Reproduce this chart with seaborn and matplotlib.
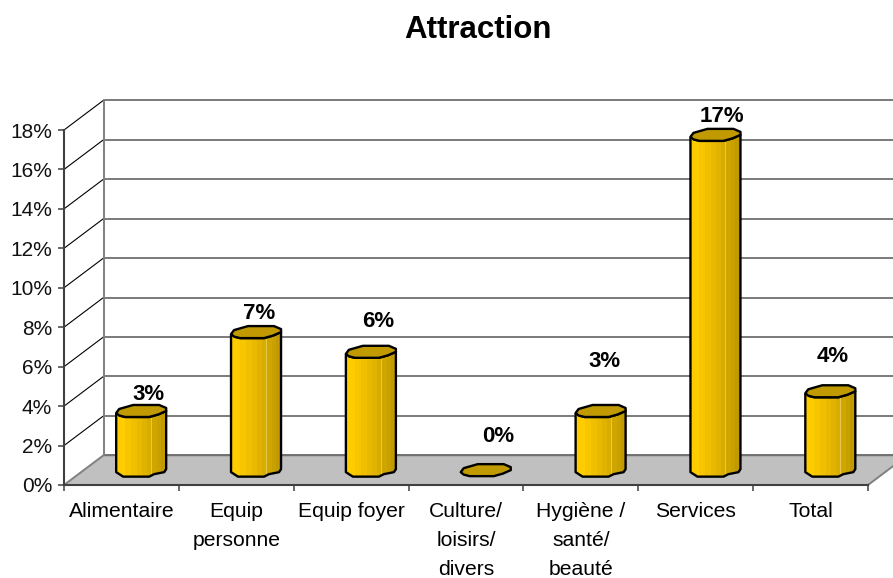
import numpy as np
import pandas as pd
import matplotlib
matplotlib.use("Agg")
import matplotlib.pyplot as plt
from matplotlib.patches import Polygon
from matplotlib.path import Path
from matplotlib.transforms import Affine2D, IdentityTransform
import seaborn as sns

categories = ["Alimentaire", "Equip\npersonne", "Equip foyer", "Culture/\nloisirs/\ndivers",
              "Hygiène /\nsanté/\nbeauté", "Services", "Total"]
values = [3, 7, 6, 0, 3, 17, 4]
y_ticks = list(range(0, 19, 2))
title = "Attraction"

# layout constants (pixels)
W, H = 893, 578
L, R, B, T = 64, 868, 485, 130
DEPTH_X, DEPTH_Y = 39.5, 29.7
label_offsets = [(7, 16), (3, 18.6), (7, 30), (12.5, 33.5), (4, 49), (6, 18.6), (2, 34.7)]
LID_BACK = [(-25, 2), (-22, -2), (-8, -6), (18, -6), (25, -3)]
LID_FRONT = [(25, 0), (17, 3.5), (8, 6), (-16, 6), (-22, 4.5)]
BOTTOM = [(-25, 2), (-18, 6.5), (8, 6.5), (13, 4), (23, 2), (25, -1)]
BAND_COLORS = ["#FFCC00"] * 9 + ["#F7C600"] * 6 + ["#EFBF00"] * 6 + ["#E8B900"] * 5 + ["#E0B300"] * 5 + \
              ["#D8AD00"] * 4 + ["#E6C84A"] * 1 + ["#CFA600"] * 5 + ["#C8A000"] * 4 + ["#C09A00"] * 5
LID_COLOR = "#C09A00"

sns.set_theme(style="white")
plt.rcParams["font.family"] = ["Liberation Sans", "DejaVu Sans"]

fig = plt.figure(figsize=(W / 100, H / 100), dpi=100, facecolor="white")
ax = fig.add_axes([L / W, 1 - B / H, (R - L) / W, (B - T) / H])

df = pd.DataFrame({"cat": categories, "val": values})
sns.barplot(data=df, x="cat", y="val", color="#FFCC00", saturation=1, width=50 / 114.86, ax=ax)
ax.set_xlim(-0.5, 6.5)
ax.set_ylim(0, 18)
ax.set_xlabel("")
ax.set_ylabel("")
ax.set_facecolor("none")
ax.set_axisbelow(False)

# shift from the front plane to mid-depth / back wall
mid = ax.transData + Affine2D().translate(DEPTH_X / 2, DEPTH_Y / 2)
back = ax.transData + Affine2D().translate(DEPTH_X, DEPTH_Y)

# floor
x0, x1 = -0.5, 6.5
fl = np.array([ax.transData.transform((x0, 0)), back.transform((x0, 0)),
               back.transform((x1, 0)), ax.transData.transform((x1, 0))])
ax.add_patch(Polygon(fl, closed=True, transform=IdentityTransform(), facecolor="#C0C0C0",
                     edgecolor="#808080", lw=1.4, clip_on=False, zorder=1))

# back wall and left wall
for t in y_ticks:
    ax.plot([x0, x1], [t, t], transform=back, color="#707070", lw=1.3, clip_on=False, zorder=1.5)
    a, b = ax.transData.transform((x0, t)), back.transform((x0, t))
    if t > 0:
        ax.plot([a[0], b[0]], [a[1], b[1]], transform=IdentityTransform(), color="black", lw=0.8,
                clip_on=False, zorder=1.5)
ax.plot([x0, x0], [0, 18], transform=back, color="#808080", lw=1.4, clip_on=False, zorder=1.5)

# cylinders
band_rgb = np.array([matplotlib.colors.to_rgb(c) for c in BAND_COLORS])[None, :, :]
for i, (rect, v) in enumerate(zip(ax.containers[0], values)):
    rect.set_transform(mid)
    rect.set_clip_on(False)
    rect.set_zorder(3)
    rect.set_linewidth(0)
    cx = rect.get_x() + rect.get_width() / 2
    bx, by = mid.transform((cx, 0))
    tx, ty = mid.transform((cx, v))
    lid_back = [(tx + a, ty - c) for a, c in LID_BACK]
    lid_front = [(tx + a, ty - c) for a, c in LID_FRONT]
    bot = [(bx + a, by - c) for a, c in BOTTOM]
    body = [lid_back[0]] + bot + lid_front + [lid_back[0]]
    if v > 0:
        im = ax.imshow(band_rgb, extent=[rect.get_x(), rect.get_x() + rect.get_width(), -1, v + 1],
                       aspect="auto", interpolation="nearest", transform=mid, zorder=3.1)
        im.set_clip_path(Path(body + [body[0]], closed=True), IdentityTransform())
        ax.add_patch(Polygon(body, closed=False, fill=False, edgecolor="black", lw=1.7,
                             joinstyle="round", transform=IdentityTransform(), clip_on=False, zorder=3.2))
    ax.add_patch(Polygon(lid_back + lid_front, closed=True, facecolor=LID_COLOR, edgecolor="black", lw=1.7,
                         joinstyle="round", transform=IdentityTransform(), clip_on=False, zorder=3.3))
    dx, dy = label_offsets[i]
    ax.annotate(f"{v}%", xy=(cx, v), xycoords=mid, xytext=(dx, dy), textcoords="offset pixels",
                ha="center", va="center", fontsize=16, fontweight="bold", color="black",
                annotation_clip=False, zorder=4)
ax.set_xlim(-0.5, 6.5)
ax.set_ylim(0, 18)

# axes
for s in ["top", "right"]:
    ax.spines[s].set_visible(False)
for s in ["left", "bottom"]:
    ax.spines[s].set_color("#404040")
    ax.spines[s].set_linewidth(1.5)
    ax.spines[s].set_zorder(2)
ax.set_yticks(y_ticks)
ax.set_yticklabels([f"{t}%" for t in y_ticks])
ax.set_xticks(range(len(categories)))
ax.set_xticklabels(categories, linespacing=1.68)
ax.set_xticks(np.arange(-0.5, 7), minor=True)
ax.tick_params(axis="x", which="major", length=0, pad=12, labelsize=15.2, colors="black")
ax.tick_params(axis="x", which="minor", length=4, width=1.1, color="#404040", bottom=True)
ax.tick_params(axis="y", which="major", length=4, width=1.1, color="#404040", pad=4.5, labelsize=15,
               labelcolor="#111111", left=True)

fig.text(478 / W, 1 - 30 / H, title, ha="center", va="center", fontsize=22.5, fontweight="bold", color="black")
fig.savefig("out.png", dpi=100, facecolor="white")
